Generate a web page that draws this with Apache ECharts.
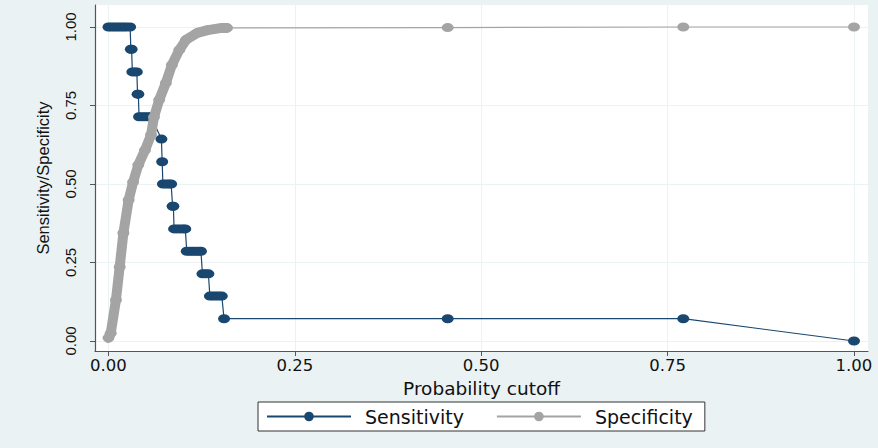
<!DOCTYPE html>
<html>
<head>
<meta charset="utf-8">
<script src="https://cdn.jsdelivr.net/npm/echarts@6/dist/echarts.min.js"></script>
<style>
html,body{margin:0;padding:0;background:#eaf2f3;}
#chart{width:878px;height:448px;}
</style>
</head>
<body>
<div id="chart"></div>
<script>
// ---- data ----
const xTicks = [0, 0.25, 0.5, 0.75, 1];
const yTicks = [0, 0.25, 0.5, 0.75, 1];

const sensCutoff = [
  0.000, 0.004, 0.008, 0.012, 0.016, 0.020, 0.024, 0.029,
  0.030, 0.031,
  0.032, 0.035, 0.038,
  0.039, 0.040,
  0.041, 0.045, 0.049, 0.053, 0.057,
  0.071,
  0.072,
  0.073, 0.077, 0.081, 0.084,
  0.086, 0.087,
  0.088, 0.092, 0.096, 0.100, 0.103,
  0.105, 0.109, 0.113, 0.117, 0.121, 0.124,
  0.126, 0.130, 0.134,
  0.136, 0.140, 0.144, 0.148, 0.152,
  0.155, 0.455, 0.771,
  1.000
];
const sensValue = [
  1, 1, 1, 1, 1, 1, 1, 1,
  0.929, 0.929,
  0.857, 0.857, 0.857,
  0.786, 0.786,
  0.714, 0.714, 0.714, 0.714, 0.714,
  0.643,
  0.571,
  0.5, 0.5, 0.5, 0.5,
  0.429, 0.429,
  0.357, 0.357, 0.357, 0.357, 0.357,
  0.286, 0.286, 0.286, 0.286, 0.286, 0.286,
  0.214, 0.214, 0.214,
  0.143, 0.143, 0.143, 0.143, 0.143,
  0.071, 0.071, 0.071,
  0
];

const specCutoff = [
  0.000, 0.003, 0.010, 0.015, 0.020, 0.027, 0.033, 0.040, 0.049, 0.057,
  0.061, 0.068, 0.077, 0.085, 0.095, 0.104, 0.119, 0.133, 0.152, 0.159,
  0.455, 0.771, 1.000
];
const specValue = [
  0.010, 0.025, 0.131, 0.236, 0.344, 0.449, 0.506, 0.561, 0.608, 0.656,
  0.713, 0.768, 0.822, 0.879, 0.927, 0.959, 0.981, 0.990, 0.997, 0.997,
  0.998, 1.000, 1.000
];
const denseCount = 20; // points of the dense (thick) part of the specificity curve

// ---- chart ----
const navy = '#1a476f';
const gray = '#a4a4a4';
const ellipse = 'path://M0,4a6,4 0 1,0 12,0a6,4 0 1,0 -12,0z';
const pairs = (xs, ys) => xs.map((x, i) => [x, ys[i]]);

const chart = echarts.init(document.getElementById('chart'), null, {renderer: 'svg'});
chart.setOption({
  animation: false,
  backgroundColor: '#eaf2f3',
  grid: {
    left: 95, right: 10, top: 5, bottom: 97,
    show: true, backgroundColor: '#ffffff', borderWidth: 0,
    outerBoundsMode: 'none'
  },
  xAxis: {
    type: 'value',
    min: -0.0181, max: 1.0188,
    name: 'Probability cutoff',
    nameLocation: 'middle',
    nameGap: 28,
    nameMoveOverlap: false,
    nameTextStyle: {fontFamily: 'DejaVu Sans', fontSize: 18.5, lineHeight: 18, color: '#111'},
    axisLine: {show: true, onZero: false, lineStyle: {color: '#555', width: 1.2}},
    axisTick: {show: true, length: 5, customValues: xTicks, lineStyle: {color: '#555'}},
    axisLabel: {
      customValues: xTicks,
      formatter: v => Number(v).toFixed(2),
      fontFamily: 'DejaVu Sans', fontSize: 16.5, lineHeight: 16, color: '#111', margin: 6
    },
    splitLine: {show: true, lineStyle: {color: '#eaf2f3', width: 1}}
  },
  yAxis: {
    type: 'value',
    min: -0.0318, max: 1.070,
    name: 'Sensitivity/Specificity',
    nameLocation: 'middle',
    nameGap: 44,
    nameRotate: 90,
    nameMoveOverlap: false,
    nameTextStyle: {fontFamily: 'Liberation Sans', fontSize: 16.5, color: '#111'},
    axisLine: {show: true, onZero: false, lineStyle: {color: '#555', width: 1.2}},
    axisTick: {show: true, length: 5, customValues: yTicks, lineStyle: {color: '#555'}},
    axisLabel: {
      customValues: yTicks,
      rotate: 90,
      formatter: v => Number(v).toFixed(2),
      fontFamily: 'Liberation Sans', fontSize: 15, color: '#111', margin: 17
    },
    splitLine: {show: true, lineStyle: {color: '#eaf2f3', width: 1}}
  },
  legend: {
    data: ['Sensitivity', 'Specificity'],
    left: 258, top: 402,
    itemWidth: 84, itemHeight: 12, itemGap: 32,
    padding: [5, 12, 5, 8],
    backgroundColor: '#ffffff',
    borderColor: '#333', borderWidth: 1, borderRadius: 0,
    textStyle: {fontFamily: 'DejaVu Sans', fontSize: 19, color: '#111', padding: [0, 0, 0, 9]}
  },
  series: [
    {
      name: 'Sensitivity',
      type: 'line',
      data: pairs(sensCutoff, sensValue),
      symbol: ellipse, symbolKeepAspect: false, symbolSize: [12, 9],
      showAllSymbol: true,
      lineStyle: {color: navy, width: 1.2},
      itemStyle: {color: navy},
      z: 2
    },
    {
      name: 'specBand',
      type: 'line',
      data: pairs(specCutoff.slice(0, denseCount), specValue.slice(0, denseCount)),
      symbol: 'none',
      lineStyle: {color: gray, width: 10, cap: 'round', join: 'round'},
      silent: true,
      z: 3
    },
    {
      name: 'Specificity',
      type: 'line',
      data: pairs(specCutoff, specValue),
      symbol: ellipse, symbolKeepAspect: false, symbolSize: [12, 9],
      showAllSymbol: true,
      lineStyle: {color: gray, width: 1.2},
      itemStyle: {color: gray},
      z: 3
    }
  ]
});
</script>
</body>
</html>
